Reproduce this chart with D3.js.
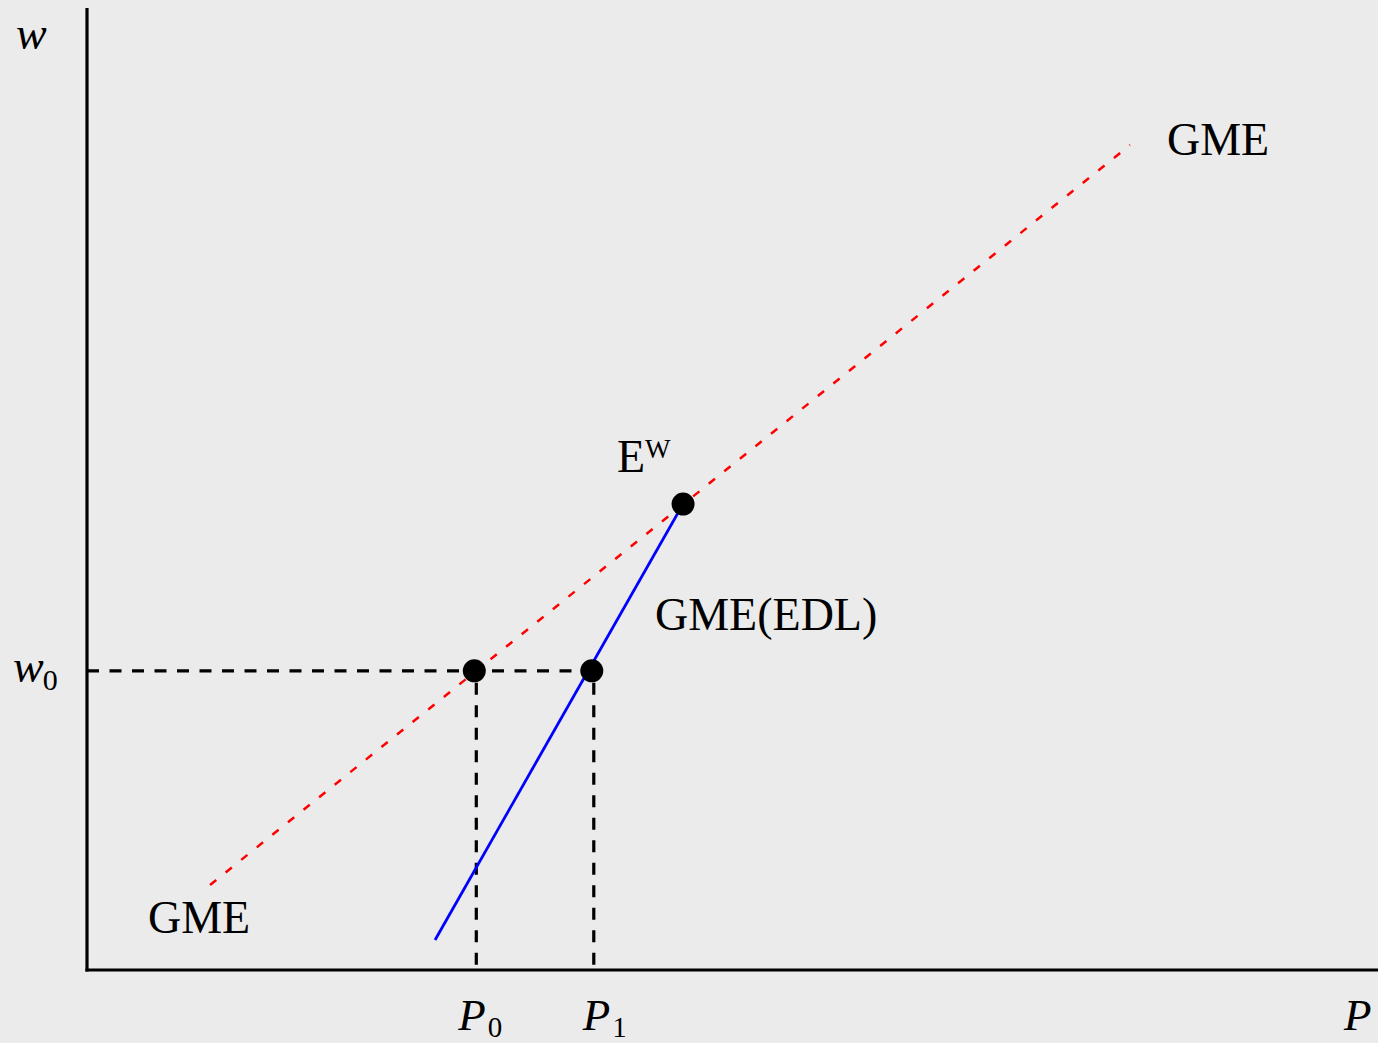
<!DOCTYPE html>
<html><head><meta charset="utf-8">
<script src="https://cdn.jsdelivr.net/npm/d3@7"></script>
<style>
html,body{margin:0;padding:0;background:#ebebeb;}
svg{display:block;}
text{font-family:"Liberation Serif","Times New Roman",serif;fill:#000;}
</style></head>
<body>
<script>
// Data (units: P on x, w on y)
const gmeLine = [{P:0.953,w:0.884},{P:8.079,w:8.576}];   // red dashed GME
const edlLine = [{P:2.696,w:0.312},{P:4.617,w:4.844}];   // blue GME(EDL)
const P0 = 3.0, P1 = 3.91, w0 = 3.11;
const Ew = {P:4.617, w:4.844};
const dots = [{P:P0,w:w0},{P:P1,w:w0},Ew];
const xTickLabels = [{v:P0,main:"P",sub:"0",off:-16},{v:P1,main:"P",sub:"1",off:-9}];
const yTickLabels = [{v:w0,main:"w",sub:"0"}];

const W = 1378, H = 1043;
const svg = d3.select("body").append("svg").attr("width",W).attr("height",H);
svg.append("rect").attr("width",W).attr("height",H).attr("fill","#ebebeb");

const x = d3.scaleLinear().domain([0,10]).range([87,1378]);
const y = d3.scaleLinear().domain([0,10]).range([970,8]);
const line = d3.line().x(d=>x(d.P)).y(d=>y(d.w));

// guide dashed lines
svg.append("line").attr("x1",x(0)).attr("x2",x(P1)).attr("y1",y(w0)).attr("y2",y(w0))
  .attr("stroke","#000").attr("stroke-width",3.2).attr("stroke-dasharray","12,10.5");
[P0,P1].forEach(p=>{
  svg.append("line").attr("x1",x(p)+2).attr("x2",x(p)+2).attr("y1",y(w0)+12).attr("y2",y(0))
    .attr("stroke","#000").attr("stroke-width",3.2).attr("stroke-dasharray","12,10.5");
});

// GME red dashed
svg.append("path").datum(gmeLine).attr("d",line).attr("fill","none")
  .attr("stroke","#ff0000").attr("stroke-width",2.5).attr("stroke-dasharray","8,12");
// GME(EDL) blue
svg.append("path").datum(edlLine).attr("d",line).attr("fill","none")
  .attr("stroke","#0000ff").attr("stroke-width",2.8);

// axes
svg.append("line").attr("x1",x(0)).attr("x2",x(0)).attr("y1",y(10)).attr("y2",y(0)+1.5)
  .attr("stroke","#000").attr("stroke-width",3.2);
svg.append("line").attr("x1",x(0)-1.5).attr("x2",x(10)).attr("y1",y(0)).attr("y2",y(0))
  .attr("stroke","#000").attr("stroke-width",3.2);

// dots
svg.selectAll("circle.d").data(dots).enter().append("circle")
  .attr("cx",d=>x(d.P)).attr("cy",d=>y(d.w)).attr("r",11.5).attr("fill","#000");

// axis titles
svg.append("text").attr("x",16).attr("y",49).attr("font-size",46).attr("font-style","italic").text("w");
svg.append("text").attr("x",1344).attr("y",1030).attr("font-size",45).attr("font-style","italic").text("P");

// tick labels
xTickLabels.forEach(t=>{
  const g = svg.append("text").attr("x",x(t.v)+t.off).attr("y",1030).attr("font-size",45);
  g.append("tspan").attr("font-style","italic").text(t.main);
  g.append("tspan").attr("font-size",29).attr("dx",2).attr("dy",7).text(t.sub);
});
yTickLabels.forEach(t=>{
  const g = svg.append("text").attr("x",13).attr("y",y(t.v)+11).attr("font-size",46);
  g.append("tspan").attr("font-style","italic").text(t.main);
  g.append("tspan").attr("font-size",30).attr("dx",-1).attr("dy",8).text(t.sub);
});

// curve labels
svg.append("text").attr("x",1167).attr("y",155).attr("font-size",46).text("GME");
svg.append("text").attr("x",148).attr("y",933).attr("font-size",46).text("GME");
svg.append("text").attr("x",655).attr("y",630).attr("font-size",46).text("GME(EDL)");
const e = svg.append("text").attr("x",617).attr("y",472).attr("font-size",46);
e.append("tspan").text("E");
e.append("tspan").attr("font-size",27).attr("dy",-14).text("W");
</script>
</body></html>
